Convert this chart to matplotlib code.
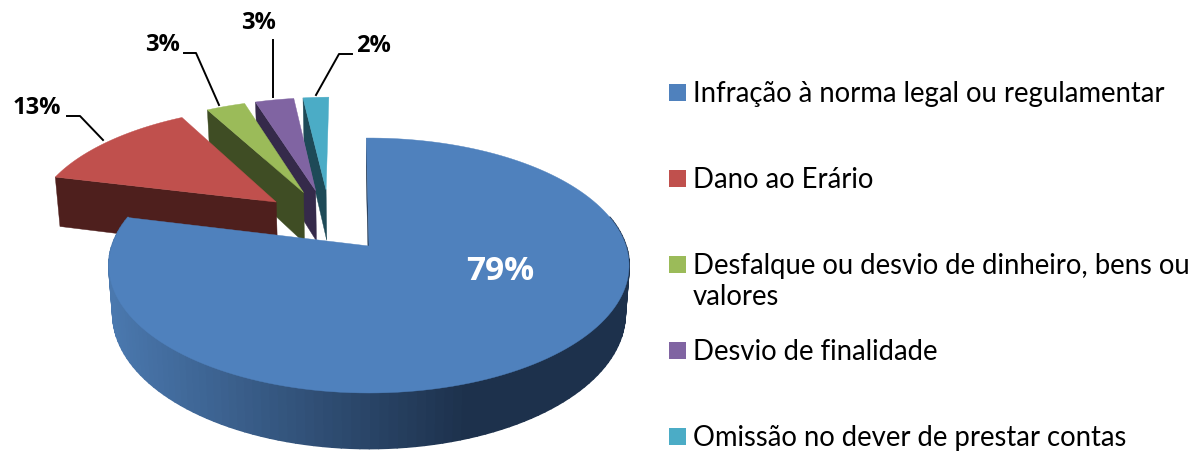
import numpy as np
import matplotlib
matplotlib.use("Agg")
import matplotlib.pyplot as plt
from matplotlib.collections import PolyCollection
from matplotlib.colors import to_rgb

# donnees du graphique
categories = ["Infração à norma legal ou regulamentar", "Dano ao Erário",
              "Desfalque ou desvio de dinheiro, bens ou\nvalores",
              "Desvio de finalidade", "Omissão no dever de prestar contas"]
valeurs = [79, 13, 3, 3, 2]
etiquettes = ["79%", "13%", "3%", "3%", "2%"]

couleurs = ["#4f81bd", "#c0504d", "#9bbb59", "#8064a2", "#4bacc6"]
faces = ["#1f3550", "#4e1f1d", "#3f4d24", "#352a4a", "#1e4a57"]

# parametres de la projection (pixels)
X0, Y0 = 369, 246
B, A, P = 257, 124.5, 0.153
D = 47          # epaisseur
SHRINK = 0.985
EXPL = 0.28
ROT = -0.7      # degres
# petites parts : un peu decalees et plus epaisses
DU, DV, RAYON, D_PETIT = 0.016, 0.015, 0.98, 54


def proj(u, v):
    s = 1 / (1 - P * v)
    return X0 + B * u * s, Y0 + A * v * s, s


def proj_bas(u, v, d=D):
    x, y, s = proj(u, v)
    return X0 + (x - X0) * SHRINK, y + d * s


fig = plt.figure(figsize=(11.98, 4.55), dpi=100)
ax = fig.add_axes([0, 0, 1, 1])
ax.set_xlim(0, 1198)
ax.set_ylim(455, 0)
ax.axis("off")

bornes = np.cumsum([0] + valeurs) / sum(valeurs) * 360 + ROT
milieux = (bornes[:-1] + bornes[1:]) / 2
# le centre du camembert : la part principale reste a l'origine
u0 = -EXPL * np.sin(np.radians(milieux[0]))
v0 = EXPL * np.cos(np.radians(milieux[0]))

# on dessine de l'arriere vers l'avant : la part 0 en dernier
for i in [4, 3, 2, 1, 0]:
    t = np.radians(np.linspace(bornes[i], bornes[i + 1], 160))
    m = np.radians(milieux[i])
    au = u0 + EXPL * np.sin(m)
    av = v0 - EXPL * np.cos(m)
    r, d = 1, D
    if i > 0:
        au, av, r, d = au + DU, av + DV, RAYON, D_PETIT
    u = au + r * np.sin(t)
    v = av - r * np.cos(t)

    # face de coupe
    xs = [proj(u[0], v[0])[:2], proj(au, av)[:2], proj_bas(au, av, d), proj_bas(u[0], v[0], d)]
    ax.fill(*zip(*xs), color=faces[i], lw=0.3, zorder=i * -10 + 1)

    if i == 0:
        # paroi exterieure en degrade
        xh, yh, _ = proj(u, v)
        xb, yb = proj_bas(u, v)
        quads = []
        cols = []
        clair = np.array(to_rgb("#4a78ae"))
        fonce = np.array(to_rgb("#1d314c"))
        for k in range(len(t) - 1):
            if np.cos(t[k]) > 0.25:
                continue
            quads.append([(xh[k], yh[k]), (xh[k + 1], yh[k + 1]), (xb[k + 1], yb[k + 1]), (xb[k], yb[k])])
            f = np.clip((xh[k] - 112) / (470 - 112), 0, 1)
            cols.append(clair + (fonce - clair) * f)
        ax.add_collection(PolyCollection(quads, facecolors=cols, edgecolors=cols, linewidths=1.3, zorder=i * -10 + 2))

    x, y, _ = proj(u, v)
    ax.fill(np.r_[proj(au, av)[0], x], np.r_[proj(au, av)[1], y], color=couleurs[i], lw=0.3, zorder=i * -10 + 3)

# etiquettes et lignes de rappel
pos_etiq = [(500, 271), (37, 108), (162, 45), (258, 23), (373, 46)]
rappels = [None,
           [(67, 116), (80, 116), (103, 140)],
           [(184, 53), (196, 53), (219, 105)],
           [(273, 40), (273, 97)],
           [(352, 54), (339, 54), (316, 95)]]
for i in range(5):
    if i == 0:
        ax.text(*pos_etiq[i], etiquettes[i], color="white", fontsize=24, fontweight="bold",
                family="Open Sans", ha="center", va="center", zorder=5)
    else:
        ax.text(*pos_etiq[i], etiquettes[i], color="black", fontsize=17, fontweight="bold",
                family="Open Sans", ha="center", va="center", zorder=5)
        ax.plot(*zip(*rappels[i]), color="black", lw=1.4, zorder=5)

# legende
y_carres = [92, 178, 264, 350, 436]
for i in range(5):
    ax.fill([669, 686, 686, 669], [y_carres[i] - 8.5, y_carres[i] - 8.5, y_carres[i] + 8.5, y_carres[i] + 8.5],
            color=couleurs[i], lw=0)
    ax.text(693, y_carres[i] - 11, categories[i], fontsize=19.8, family="Lato", color="black",
            va="top", ha="left", linespacing=1.25)

fig.savefig("out.png", dpi=100)
